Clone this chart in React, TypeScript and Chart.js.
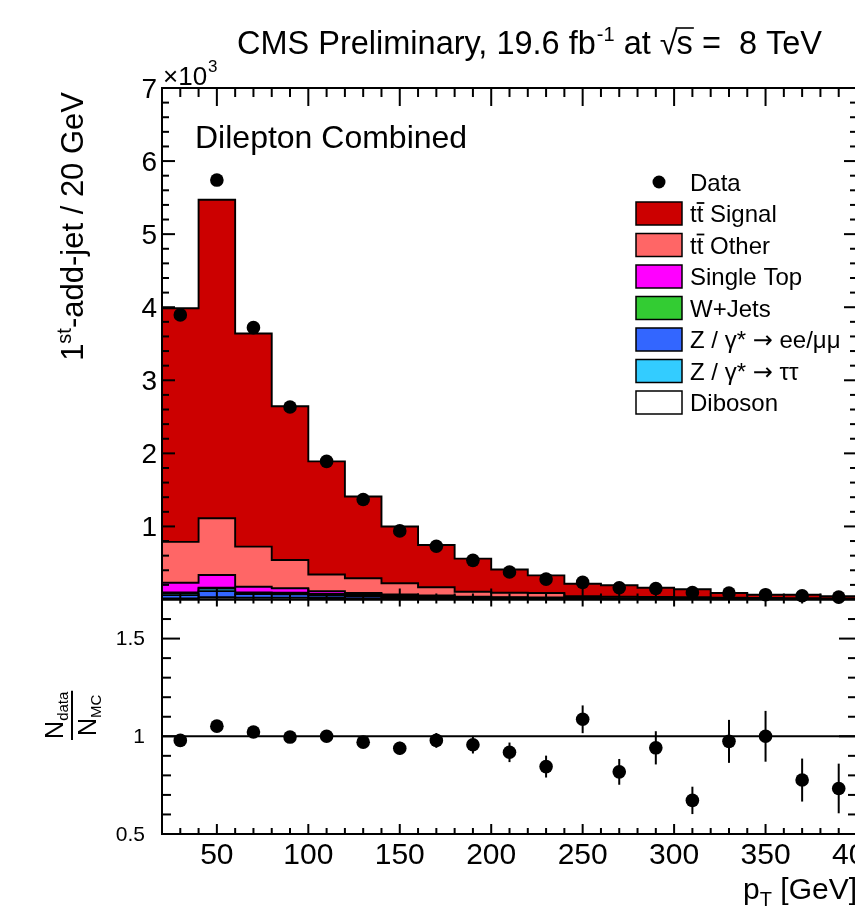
import React, { useEffect, useRef } from 'react';
import { Chart, registerables } from 'chart.js';

Chart.register(...registerables);

// ---------------- data ----------------
const binCenters = [30, 50, 70, 90, 110, 130, 150, 170, 190, 210, 230, 250, 270, 290, 310, 330, 350, 370, 390];
const binWidth = 20;

const ttSignal = [3197, 4358, 2917, 2104, 1548, 1120, 778, 578, 453, 317, 242, 170, 155, 125, 110, 64, 46, 49, 30];
const ttOther = [558, 776, 548, 388, 228, 201, 152, 112, 67, 61, 60, 23, 22, 20, 18, 15, 12, 10, 9];
const singleTop = [135, 176, 77, 60, 36, 25, 23, 18, 12, 9, 10, 7, 5, 5, 4, 3, 2, 1, 1];
const wJets = [10, 10, 8, 8, 8, 7, 5, 4, 3, 3, 2, 2, 2, 1, 1, 1, 1, 1, 1];
const zTauTau = [25, 35, 15, 15, 15, 12, 8, 6, 5, 4, 3, 3, 2, 2, 1, 1, 1, 1, 1];
const zEeMuMu = [45, 85, 50, 45, 35, 30, 22, 17, 12, 10, 8, 6, 5, 4, 3, 3, 2, 2, 2];
const diboson = [15, 30, 25, 25, 20, 15, 12, 10, 8, 6, 5, 4, 4, 3, 3, 2, 2, 2, 1];

const dataValues = [3895, 5740, 3720, 2635, 1890, 1368, 939, 729, 536, 376, 279, 234, 160, 151, 94, 87, 66, 51, 33];

const ratioValues = [0.979, 1.052, 1.022, 0.996, 1.0, 0.97, 0.939, 0.979, 0.957, 0.918, 0.845, 1.087, 0.818, 0.941, 0.672, 0.974, 1.0, 0.776, 0.733];
const ratioErrors = [0.016, 0.014, 0.017, 0.02, 0.024, 0.028, 0.033, 0.038, 0.045, 0.05, 0.056, 0.071, 0.066, 0.085, 0.07, 0.11, 0.13, 0.11, 0.127];

const xTickLabels = [50, 100, 150, 200, 250, 300, 350, 400];
const yMainTickValues = [1000, 2000, 3000, 4000, 5000, 6000, 7000];
const ratioTickLabels = [0.5, 1, 1.5];

const legendLabels = ['Data', 'tt\u0304 Signal', 'tt\u0304 Other', 'Single Top', 'W+Jets', 'Z / \u03b3* \u2192 ee/\u03bc\u03bc', 'Z / \u03b3* \u2192 \u03c4\u03c4', 'Diboson'];
const legendColors = ['#000000', '#cc0000', '#ff6666', '#ff00ff', '#33cc33', '#3366ff', '#33ccff', '#ffffff'];

// stacking order, bottom -> top
const stackSeries = [diboson, zEeMuMu, zTauTau, wJets, singleTop, ttOther, ttSignal];
const stackColors = ['#ffffff', '#3366ff', '#33ccff', '#33cc33', '#ff00ff', '#ff6666', '#cc0000'];

const FONT = '"Liberation Sans", Arial, Helvetica, sans-serif';
const ARROW_FONT = '"DejaVu Sans", sans-serif';
const CANVAS_W = 880;
const CANVAS_H = 910;

function histPoints(vals: number[]) {
  const pts = vals.map((v, i) => ({ x: binCenters[i] - binWidth / 2, y: v }));
  pts.push({ x: binCenters[binCenters.length - 1] + binWidth / 2, y: vals[vals.length - 1] });
  return pts;
}

function cumulative(): number[][] {
  const out: number[][] = [];
  let run = binCenters.map(() => 0);
  stackSeries.forEach((s) => {
    run = run.map((v, i) => v + s[i]);
    out.push(run.slice());
  });
  return out;
}

function setFont(ctx: CanvasRenderingContext2D, size: number) {
  ctx.font = `${size}px ${FONT}`;
}

const rootPlugin = {
  id: 'rootStyle',
  afterDatasetsDraw(chart: any) {
    const ctx: CanvasRenderingContext2D = chart.ctx;
    const x = chart.scales.x;
    const ym = chart.scales.yMain;
    const yr = chart.scales.yRatio;
    const L = x.left;
    const R = x.right;
    ctx.save();
    ctx.strokeStyle = '#000';
    ctx.fillStyle = '#000';
    ctx.lineCap = 'butt';

    const line = (x1: number, y1: number, x2: number, y2: number) => {
      ctx.beginPath();
      ctx.moveTo(x1, y1);
      ctx.lineTo(x2, y2);
      ctx.stroke();
    };

    // ratio error bars
    ctx.lineWidth = 2;
    binCenters.forEach((c, i) => {
      const px = x.getPixelForValue(c);
      line(px, yr.getPixelForValue(ratioValues[i] - ratioErrors[i]), px, yr.getPixelForValue(ratioValues[i] + ratioErrors[i]));
    });

    // frames
    ctx.lineWidth = 2;
    ctx.strokeRect(L, ym.top, R - L, ym.bottom - ym.top);
    ctx.strokeRect(L, yr.top, R - L, yr.bottom - yr.top);

    // x ticks
    for (let v = 30; v < 400; v += 10) {
      const px = x.getPixelForValue(v);
      const major = v % 50 === 0;
      line(px, ym.top, px, ym.top + (major ? 18 : 9));
      line(px, ym.bottom, px, ym.bottom - (major ? 11 : 6));
      line(px, yr.top, px, yr.top + (major ? 7 : 4));
      line(px, yr.bottom, px, yr.bottom - (major ? 10 : 6));
    }
    // main y ticks
    for (let v = 200; v < 7000; v += 200) {
      const py = ym.getPixelForValue(v);
      const len = v % 1000 === 0 ? 13 : 7;
      line(L, py, L + len, py);
      line(R, py, R - len, py);
    }
    // ratio y ticks
    for (let k = 6; k < 17; k++) {
      const v = k / 10;
      const py = yr.getPixelForValue(v);
      const len = k % 5 === 0 ? 18 : 9;
      line(L, py, L + len, py);
      line(R, py, R - len, py);
    }

    // main y labels
    setFont(ctx, 28);
    ctx.textAlign = 'right';
    ctx.textBaseline = 'middle';
    yMainTickValues.forEach((v) => {
      ctx.fillText(String(v / 1000), L - 5, ym.getPixelForValue(v) + 2);
    });
    // exponent
    ctx.textAlign = 'left';
    ctx.textBaseline = 'alphabetic';
    setFont(ctx, 26);
    ctx.fillText('\u00d710', L + 1, ym.top - 3);
    const wx = ctx.measureText('\u00d710').width;
    setFont(ctx, 17);
    ctx.fillText('3', L + 1 + wx + 1, ym.top - 16);

    // ratio y labels
    setFont(ctx, 21);
    ctx.textAlign = 'right';
    ctx.textBaseline = 'middle';
    ratioTickLabels.forEach((v) => {
      ctx.fillText(String(v), L - 17, yr.getPixelForValue(v) + 1);
    });

    // x labels
    setFont(ctx, 30);
    ctx.textAlign = 'center';
    ctx.textBaseline = 'alphabetic';
    xTickLabels.forEach((v) => {
      ctx.fillText(String(v), x.getPixelForValue(v), yr.bottom + 30);
    });

    // x title: p_T [GeV], right aligned at axis end
    {
      setFont(ctx, 30);
      const wP = ctx.measureText('p').width;
      const wRest = ctx.measureText(' [GeV]').width;
      setFont(ctx, 20);
      const wT = ctx.measureText('T').width;
      const total = wP + wT + wRest;
      let cx = R - total;
      const by = 899;
      ctx.textAlign = 'left';
      setFont(ctx, 30);
      ctx.fillText('p', cx, by);
      cx += wP;
      setFont(ctx, 20);
      ctx.fillText('T', cx, by + 7);
      cx += wT;
      setFont(ctx, 30);
      ctx.fillText(' [GeV]', cx, by);
    }

    // y title main: 1st-add-jet / 20 GeV (rotated)
    {
      ctx.save();
      ctx.translate(83, ym.top + 4);
      ctx.rotate(-Math.PI / 2);
      setFont(ctx, 31);
      const w1 = ctx.measureText('1').width;
      const wRest = ctx.measureText('-add-jet / 20 GeV').width;
      setFont(ctx, 20);
      const wSt = ctx.measureText('st').width;
      const total = w1 + wSt + wRest;
      let cx = -total;
      ctx.textAlign = 'left';
      ctx.textBaseline = 'alphabetic';
      setFont(ctx, 31);
      ctx.fillText('1', cx, 0);
      cx += w1;
      setFont(ctx, 20);
      ctx.fillText('st', cx, -12);
      cx += wSt;
      setFont(ctx, 31);
      ctx.fillText('-add-jet / 20 GeV', cx, 0);
      ctx.restore();
    }

    // ratio y title: N_data / N_MC fraction (rotated)
    {
      ctx.save();
      ctx.translate(72, yr.getPixelForValue(1) - 21);
      ctx.rotate(-Math.PI / 2);
      ctx.textAlign = 'left';
      ctx.textBaseline = 'alphabetic';
      setFont(ctx, 25);
      const wN = ctx.measureText('N').width;
      setFont(ctx, 15);
      const wData = ctx.measureText('data').width;
      const wMC = ctx.measureText('MC').width;
      const numW = wN + wData;
      const denW = wN + wMC;
      const barW = Math.max(numW, denW) + 2;
      ctx.lineWidth = 2;
      line(-barW / 2, 0, barW / 2, 0);
      let cx = -numW / 2;
      setFont(ctx, 25);
      ctx.fillText('N', cx, -9);
      setFont(ctx, 15);
      ctx.fillText('data', cx + wN, -4);
      cx = -denW / 2;
      setFont(ctx, 25);
      ctx.fillText('N', cx, 24);
      setFont(ctx, 15);
      ctx.fillText('MC', cx + wN, 29);
      ctx.restore();
    }

    // title
    {
      ctx.textAlign = 'left';
      ctx.textBaseline = 'alphabetic';
      const by = 54;
      let cx = 237;
      setFont(ctx, 32.5);
      const p1 = 'CMS Preliminary, 19.6 fb';
      ctx.fillText(p1, cx, by);
      cx += ctx.measureText(p1).width;
      setFont(ctx, 20);
      ctx.fillText('-1', cx + 1, by - 13);
      cx += ctx.measureText('-1').width + 1;
      setFont(ctx, 32.5);
      ctx.fillText(' at ', cx, by);
      cx += ctx.measureText(' at ').width;
      ctx.fillText('\u221a', cx, by);
      const wr = ctx.measureText('\u221a').width;
      const sx = cx + wr - 1;
      ctx.fillText('s', sx, by);
      const ws = ctx.measureText('s').width;
      ctx.lineWidth = 1.6;
      line(sx - 1, by - 26, sx + ws + 1, by - 26);
      cx = sx + ws;
      ctx.fillText(' =  8 TeV', cx, by);
    }

    // Dilepton Combined
    setFont(ctx, 32);
    ctx.textAlign = 'left';
    ctx.fillText('Dilepton Combined', 195, 148);

    // legend
    {
      const boxX = 636;
      const boxW = 46;
      const boxH = 23;
      const textX = 690;
      const row0 = 182;
      const dy = 31.5;
      legendLabels.forEach((lab, i) => {
        const cy = row0 + i * dy;
        if (i === 0) {
          ctx.beginPath();
          ctx.arc(boxX + boxW / 2, cy, 6.5, 0, Math.PI * 2);
          ctx.fillStyle = '#000';
          ctx.fill();
        } else {
          ctx.fillStyle = legendColors[i];
          ctx.fillRect(boxX, cy - boxH / 2, boxW, boxH);
          ctx.lineWidth = 1.5;
          ctx.strokeStyle = '#000';
          ctx.strokeRect(boxX, cy - boxH / 2, boxW, boxH);
        }
        ctx.fillStyle = '#000';
        setFont(ctx, 24);
        ctx.textAlign = 'left';
        ctx.textBaseline = 'alphabetic';
        const by = cy + 8.5;
        if (lab.startsWith('tt\u0304')) {
          const rest = lab.slice(3);
          const wt = ctx.measureText('t').width;
          ctx.fillText('t', textX, by);
          ctx.fillText('t', textX + wt, by);
          ctx.lineWidth = 1.8;
          line(textX + wt, by - 19, textX + 2 * wt + 1, by - 19);
          ctx.fillText(rest, textX + 2 * wt, by);
        } else if (lab.includes('\u2192')) {
          const [a, b] = lab.split('\u2192');
          let cx = textX;
          ctx.fillText(a, cx, by);
          cx += ctx.measureText(a).width;
          ctx.font = `24px ${ARROW_FONT}`;
          ctx.fillText('\u2192', cx, by);
          cx += ctx.measureText('\u2192').width;
          setFont(ctx, 24);
          ctx.fillText(b, cx, by);
        } else {
          ctx.fillText(lab, textX, by);
        }
      });
    }

    ctx.restore();
  },
};

export default function App() {
  const ref = useRef<HTMLCanvasElement>(null);

  useEffect(() => {
    const canvas = ref.current;
    if (!canvas) return;
    const cum = cumulative();

    // Chart.js draws dataset index 0 on top; the smallest cumulative layer (diboson) comes first
    const layers = cum.map((vals, i) => ({
      type: 'line' as const,
      data: histPoints(vals),
      xAxisID: 'x',
      yAxisID: 'yMain',
      stepped: true,
      fill: 'origin',
      backgroundColor: stackColors[i],
      borderColor: '#000',
      borderWidth: 1.9,
      pointRadius: 0,
      tension: 0,
    }));

    const datasets: any[] = [
      {
        type: 'line',
        data: binCenters.map((c, i) => ({ x: c, y: dataValues[i] })),
        xAxisID: 'x',
        yAxisID: 'yMain',
        showLine: false,
        pointRadius: 6.8,
        pointBackgroundColor: '#000',
        pointBorderWidth: 0,
        clip: false,
      },
      {
        type: 'line',
        data: binCenters.map((c, i) => ({ x: c, y: ratioValues[i] })),
        xAxisID: 'x',
        yAxisID: 'yRatio',
        showLine: false,
        pointRadius: 6.8,
        pointBackgroundColor: '#000',
        pointBorderWidth: 0,
      },
      {
        type: 'line',
        data: [
          { x: 20, y: 1 },
          { x: 400, y: 1 },
        ],
        xAxisID: 'x',
        yAxisID: 'yRatio',
        borderColor: '#000',
        borderWidth: 2,
        pointRadius: 0,
      },
      ...layers,
    ];

    const chart = new Chart(canvas, {
      type: 'line',
      data: { datasets },
      options: {
        responsive: false,
        animation: false,
        devicePixelRatio: 1,
        events: [],
        layout: {
          padding: { left: 162, right: CANVAS_W - 857, top: 88, bottom: CANVAS_H - 834 },
        },
        plugins: {
          legend: { display: false },
          tooltip: { enabled: false },
        },
        scales: {
          x: { type: 'linear', min: 20, max: 400, display: false },
          yMain: {
            type: 'linear',
            min: 0,
            max: 7000,
            display: false,
            position: 'left',
            stack: 'panels',
            stackWeight: 511.5,
            weight: 2,
          },
          yRatio: {
            type: 'linear',
            min: 0.5,
            max: 1.7,
            display: false,
            position: 'left',
            stack: 'panels',
            stackWeight: 234.5,
            weight: 1,
          },
        },
      } as any,
      plugins: [rootPlugin as any],
    });

    return () => chart.destroy();
  }, []);

  return (
    <div
      style={{
        position: 'fixed',
        left: 0,
        top: 0,
        width: 855,
        height: 910,
        overflow: 'hidden',
        background: '#ffffff',
      }}
    >
      <canvas
        ref={ref}
        width={CANVAS_W}
        height={CANVAS_H}
        style={{ display: 'block', width: CANVAS_W, height: CANVAS_H }}
      />
    </div>
  );
}
